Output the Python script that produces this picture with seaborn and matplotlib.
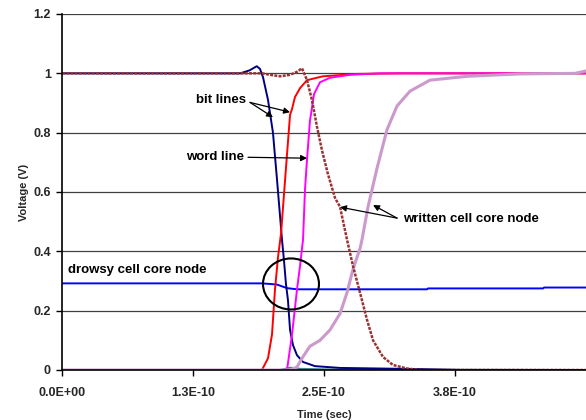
import matplotlib
matplotlib.use("Agg")
import matplotlib.pyplot as plt
from matplotlib.patches import Ellipse
import seaborn as sns
import pandas as pd

# ---------------- data (time in seconds, voltage in V) ----------------
t_bitline_a = [0, 1.70e-10, 1.79e-10, 1.858e-10, 1.889e-10, 1.918e-10, 1.966e-10, 2.013e-10,
               2.052e-10, 2.099e-10, 2.118e-10, 2.137e-10, 2.156e-10, 2.176e-10, 2.204e-10,
               2.242e-10, 2.300e-10, 2.414e-10, 2.653e-10, 3.416e-10, 3.798e-10, 5.0e-10]
v_bitline_a = [1.0, 1.0, 1.01, 1.024, 1.015, 0.987, 0.91, 0.80,
               0.64, 0.44, 0.37, 0.29, 0.236, 0.135, 0.084,
               0.05, 0.027, 0.013, 0.007, 0.003, 0.0, 0.0]

t_bitline_b = [0, 1.908e-10, 1.966e-10, 2.004e-10, 2.032e-10, 2.061e-10, 2.090e-10, 2.137e-10,
               2.176e-10, 2.195e-10, 2.223e-10, 2.271e-10, 2.338e-10, 2.490e-10, 2.815e-10,
               3.225e-10, 5.0e-10]
v_bitline_b = [0.0, 0.0, 0.04, 0.12, 0.27, 0.38, 0.46, 0.68,
               0.86, 0.88, 0.92, 0.95, 0.977, 0.99, 0.998,
               1.0, 1.0]

t_wordline = [0, 2.147e-10, 2.195e-10, 2.242e-10, 2.271e-10, 2.300e-10, 2.319e-10, 2.338e-10,
              2.366e-10, 2.405e-10, 2.462e-10, 2.557e-10, 2.748e-10, 3.034e-10, 5.0e-10]
v_wordline = [0.0, 0.0, 0.12, 0.27, 0.35, 0.44, 0.61, 0.71,
              0.84, 0.93, 0.97, 0.985, 0.995, 1.0, 1.0]

t_written_a = [0, 1.908e-10, 1.985e-10, 2.080e-10, 2.176e-10, 2.242e-10, 2.290e-10, 2.338e-10,
               2.385e-10, 2.433e-10, 2.481e-10, 2.538e-10, 2.605e-10, 2.653e-10, 2.719e-10,
               2.777e-10, 2.844e-10, 2.910e-10, 2.968e-10, 3.063e-10, 3.158e-10, 3.292e-10,
               3.416e-10, 5.0e-10]
v_written_a = [1.0, 1.0, 0.995, 0.99, 0.995, 1.005, 1.017, 0.977,
               0.91, 0.82, 0.74, 0.66, 0.58, 0.55, 0.44,
               0.35, 0.26, 0.17, 0.10, 0.044, 0.017, 0.005,
               0.0, 0.0]

t_written_b = [0, 2.176e-10, 2.242e-10, 2.300e-10, 2.366e-10, 2.462e-10, 2.557e-10, 2.653e-10,
               2.719e-10, 2.777e-10, 2.844e-10, 2.863e-10, 2.920e-10, 3.006e-10, 3.101e-10,
               3.197e-10, 3.321e-10, 3.511e-10, 3.865e-10, 4.370e-10, 4.895e-10, 5.0e-10]
v_written_b = [0.0, 0.0, 0.01, 0.045, 0.08, 0.10, 0.135, 0.19,
               0.26, 0.34, 0.41, 0.44, 0.55, 0.68, 0.81,
               0.89, 0.94, 0.977, 0.99, 0.998, 1.0, 1.008]

t_drowsy = [0, 1.908e-10, 1.985e-10, 2.052e-10, 2.099e-10, 2.147e-10, 2.242e-10,
            3.483e-10, 3.493e-10, 4.590e-10, 4.600e-10, 5.0e-10]
v_drowsy = [0.292, 0.292, 0.290, 0.288, 0.282, 0.276, 0.272,
            0.272, 0.275, 0.275, 0.278, 0.278]

t_other = [0, 2.080e-10, 2.176e-10, 2.271e-10, 2.557e-10, 5.0e-10]
v_other = [0.0, 0.0, 0.008, 0.004, 0.002, 0.0]

xticks = [0, 1.25e-10, 2.5e-10, 3.75e-10]
xtick_labels = ["0.0E+00", "1.3E-10", "2.5E-10", "3.8E-10"]
yticks = [0, 0.2, 0.4, 0.6, 0.8, 1.0, 1.2]
ytick_labels = ["0", "0.2", "0.4", "0.6", "0.8", "1", "1.2"]

# ---------------- styling ----------------
sns.set_style("white")
plt.rcParams["font.family"] = ["Liberation Sans", "DejaVu Sans"]
plt.rcParams["font.weight"] = "bold"

W, H = 586, 420
fig = plt.figure(figsize=(W / 100, H / 100), dpi=100)
ax = fig.add_axes([62 / W, 50 / H, 524 / W, 356 / H])

def draw(t, v, **kw):
    df = pd.DataFrame({"t": t, "v": v})
    sns.lineplot(data=df, x="t", y="v", ax=ax, sort=False, estimator=None, **kw)

draw(t_other, v_other, color="#3D8A94", lw=1.4)
draw(t_drowsy, v_drowsy, color="#0000FF", lw=1.4)
draw(t_bitline_a, v_bitline_a, color="#000080", lw=1.4)
draw(t_bitline_b, v_bitline_b, color="#FF0000", lw=1.4)
draw(t_wordline, v_wordline, color="#FF00FF", lw=1.4)
draw(t_written_b, v_written_b, color="#CC99CC", lw=2.2)
draw(t_written_a, v_written_a, color="#993333", lw=1.8, linestyle=(0, (1.2, 0.5)))

ax.set_xlim(0, 5e-10)
ax.set_ylim(0, 1.2)
ax.set_xticks(xticks)
ax.set_xticklabels(xtick_labels)
ax.set_yticks(yticks)
ax.set_yticklabels(ytick_labels)
ax.tick_params(axis="both", which="major", labelsize=9, length=4, width=1, color="black",
               direction="out", bottom=True, left=True)
ax.tick_params(axis="x", pad=8)
ax.tick_params(axis="y", pad=4)
for lab in ax.get_xticklabels() + ax.get_yticklabels():
    lab.set_fontweight("bold")

ax.yaxis.grid(True, color="#404040", lw=0.9)
ax.xaxis.grid(False)
ax.set_axisbelow(True)
for s in ["top", "right"]:
    ax.spines[s].set_visible(False)
for s in ["left", "bottom"]:
    ax.spines[s].set_color("black")
    ax.spines[s].set_linewidth(1.2)

ax.set_xlabel("Time (sec)", fontsize=8, fontweight="bold", labelpad=8)
ax.set_ylabel("Voltage (V)", fontsize=8, fontweight="bold", labelpad=3)

# ---------------- annotations ----------------
ann_kw = dict(fontsize=9.5, fontweight="bold", color="black")
arrow = dict(arrowstyle="-|>", color="black", lw=0.9, mutation_scale=9, shrinkA=0, shrinkB=0)

ax.text(1.756e-10, 0.909, "bit lines", ha="right", va="center", **ann_kw)
ax.annotate("", xy=(2.013e-10, 0.852), xytext=(1.794e-10, 0.902), arrowprops=arrow)
ax.annotate("", xy=(2.176e-10, 0.869), xytext=(1.794e-10, 0.902), arrowprops=arrow)

ax.text(1.737e-10, 0.717, "word line", ha="right", va="center", **ann_kw)
ax.annotate("", xy=(2.338e-10, 0.714), xytext=(1.775e-10, 0.717), arrowprops=arrow)

ax.text(3.254e-10, 0.508, "written cell core node", ha="left", va="center", **ann_kw)
ax.annotate("", xy=(2.653e-10, 0.549), xytext=(3.197e-10, 0.512), arrowprops=arrow)
ax.annotate("", xy=(2.968e-10, 0.556), xytext=(3.197e-10, 0.512), arrowprops=arrow)

ax.text(0.057e-10, 0.337, "drowsy cell core node", ha="left", va="center", **ann_kw)

ax.add_patch(Ellipse((2.185e-10, 0.290), 0.534e-10, 0.172, fill=False,
                     edgecolor="black", lw=1.5, zorder=5))

fig.savefig("out.png", dpi=100)
